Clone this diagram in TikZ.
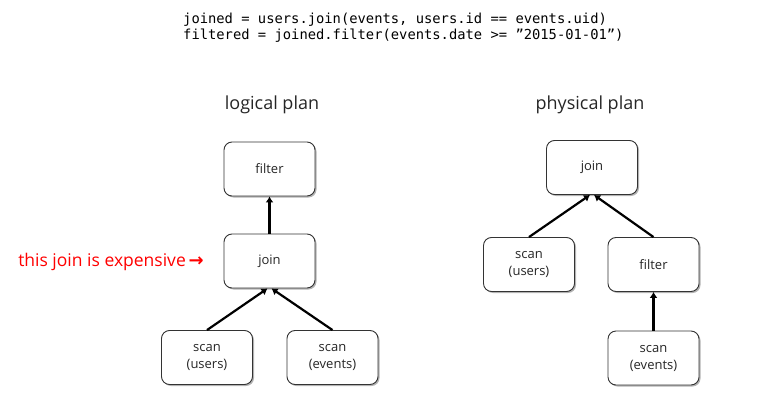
\documentclass[tikz,border=0pt]{standalone}
\usepackage{fontspec}
\setmainfont{Open Sans}
\newfontfamily\codefont{DejaVu Sans Mono}
\newfontfamily\symfont{DejaVu Sans}
\usetikzlibrary{shadows,arrows.meta}
\begin{document}
\begin{tikzpicture}[x=1pt,y=-1pt,
  box/.style={draw=black!80, line width=0.9pt, rounded corners=8pt, fill=white,
    minimum width=91pt, minimum height=54pt, align=center, font=\fontsize{13}{17}\selectfont,
    text=black!85,
    drop shadow={shadow xshift=1.5pt, shadow yshift=-1.5pt, fill=black!50, opacity=0.6}},
  conn/.style={line width=2.2pt, -{Latex[length=6pt,width=8pt]}},
  title/.style={font=\fontsize{18}{21}\selectfont, text=black!85},
  code/.style={font=\codefont\fontsize{13.8}{16}\selectfont, anchor=west, inner sep=0pt}]
\useasboundingbox (0,0) rectangle (770,401);
\node[code] (c1) at (183,20) {joined = users.join(events, users.id == events.uid)};
\node[code] (c2) at (183,36) {filtered = joined.filter(events.date >= ”2015-01-01”)};
\node[title] (lt) at (272,105) {logical plan};
\node[title] (pt) at (590,105) {physical plan};
% logical plan
\node[box] (lfilter) at (269.5,169) {filter};
\node[box] (ljoin) at (269.5,261) {join};
\node[box] (lsu) at (207,357.5) {scan\\(users)};
\node[box] (lse) at (332.5,357.5) {scan\\(events)};
\draw[conn] (ljoin.north) -- (lfilter.south);
\draw[conn] (lsu.north) -- ([xshift=-2pt]ljoin.south);
\draw[conn] (lse.north) -- ([xshift=2pt]ljoin.south);
\node[anchor=east, text=red, font=\fontsize{17.5}{20}\selectfont, inner sep=0pt] (note) at (204,262)
  {this join is expensive\,{\symfont\bfseries\fontsize{18}{20}\selectfont →}};
% physical plan
\node[box] (rjoin) at (592,167.5) {join};
\node[box] (rsu) at (529,264.5) {scan\\(users)};
\node[box] (rfilter) at (653.5,264.5) {filter};
\node[box] (rse) at (653.5,358) {scan\\(events)};
\draw[conn] (rsu.north) -- ([xshift=-2pt]rjoin.south);
\draw[conn] (rfilter.north) -- ([xshift=2pt]rjoin.south);
\draw[conn] (rse.north) -- (rfilter.south);
\end{tikzpicture}
\end{document}
